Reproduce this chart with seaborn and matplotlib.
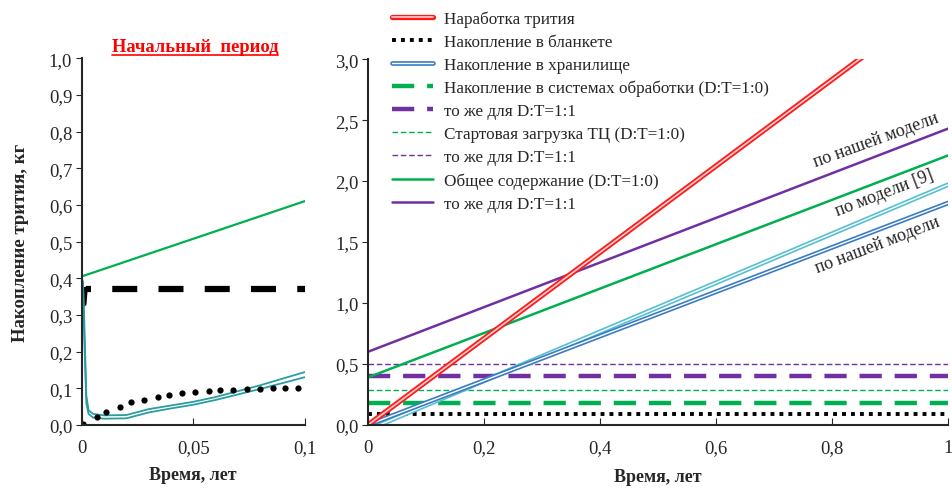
import numpy as np
import pandas as pd
import matplotlib
from matplotlib import pyplot as plt
from matplotlib import patheffects as pe
from matplotlib.lines import Line2D
import seaborn as sns
matplotlib.use("Agg")

# ---- left panel data (initial period, years 0..0.1)
t_store = [0, 0.0005, 0.001, 0.002, 0.003, 0.005, 0.01, 0.02, 0.03, 0.04, 0.05, 0.06, 0.07, 0.08, 0.09, 0.1]
store_hi = [0.40, 0.39, 0.30, 0.08, 0.04, 0.03, 0.026, 0.027, 0.043, 0.053, 0.063, 0.076, 0.092, 0.108, 0.126, 0.144]
store_lo = [0.40, 0.38, 0.25, 0.06, 0.03, 0.02, 0.017, 0.018, 0.034, 0.045, 0.055, 0.068, 0.083, 0.098, 0.114, 0.13]

t_blanket = [0.0007, 0.0067, 0.011, 0.017, 0.022, 0.028, 0.034, 0.039, 0.045, 0.051, 0.057,
             0.062, 0.068, 0.074, 0.080, 0.086, 0.091, 0.097]
blanket = [0.003, 0.022, 0.035, 0.049, 0.062, 0.068, 0.076, 0.082, 0.087, 0.090, 0.093,
           0.095, 0.096, 0.098, 0.099, 0.100, 0.100, 0.101]

t_rise_left = [0.001, 0.0015, 0.002]
rise_left = [0.33, 0.37, 0.37]
t_proc_left = [0.002, 0.1]
proc_left = [0.37, 0.37]

t_total_left = [0, 0.1]
total_left = [0.405, 0.61]

# ---- right panel data (years 0..1)
t_full = [0, 1]
prod = [0, 3.54]
store_our = [0, 1.82]
t_store9 = [0.02, 1]
store_9 = [0, 1.97]
blanket_r = [0.09, 0.09]
proc_10 = [0.18, 0.18]
proc_11 = [0.40, 0.40]
start_10 = [0.29, 0.29]
start_11 = [0.50, 0.50]
total_10 = [0.39, 2.21]
total_11 = [0.60, 2.43]

labels = ['Наработка трития', 'Накопление в бланкете', 'Накопление в хранилище',
          'Накопление в системах обработки (D:T=1:0)', 'то же для D:T=1:1',
          'Стартовая загрузка ТЦ (D:T=1:0)', 'то же для D:T=1:1',
          'Общее содержание (D:T=1:0)', 'то же для D:T=1:1']

RED = '#ff1a1a'
GREEN = '#00b050'
PURPLE = '#7030a0'
TEAL = '#2a9d9f'
BLUE = '#3a7cc4'
CYAN = '#56bfd0'

sns.set_style('ticks')
plt.rcParams['font.family'] = ['Liberation Serif', 'DejaVu Serif']
plt.rcParams['font.size'] = 12


def double(color, w=3.6):
    return [pe.Stroke(linewidth=w, foreground=color), pe.Normal()]


fig = plt.figure(figsize=(9.52, 4.89), dpi=100)
ax1 = fig.add_axes([0.086, 0.129, 0.234, 0.75])
ax2 = fig.add_axes([0.3866, 0.129, 0.6092, 0.748])

# left panel
sns.lineplot(x=t_total_left, y=total_left, ax=ax1, color=GREEN, lw=1.6)
sns.lineplot(x=t_rise_left, y=rise_left, ax=ax1, color='black', lw=3.5)
sns.lineplot(x=t_proc_left, y=proc_left, ax=ax1, color='black', lw=4.5,
             linestyle=(3.2, (4, 3.4)))
sns.lineplot(x=t_store, y=store_hi, ax=ax1, color=TEAL, lw=1.3)
sns.lineplot(x=t_store, y=store_lo, ax=ax1, color=TEAL, lw=1.3)
sns.lineplot(x=t_blanket, y=blanket, ax=ax1, color='black', linestyle='',
             marker='o', markersize=4.5, markeredgewidth=0)

ax1.set_xlim(0, 0.1)
ax1.set_ylim(0, 1.0)
ax1.set_xticks([0, 0.05, 0.1])
ax1.set_xticklabels(['0', '0,05', '0,1'])
ax1.set_yticks(np.arange(0, 1.01, 0.1))
ax1.set_yticklabels([f'{v:.1f}'.replace('.', ',') for v in np.arange(0, 1.01, 0.1)])
ax1.set_xlabel('Время, лет', fontweight='bold', fontsize=13, labelpad=7)
ax1.set_ylabel('Накопление трития, кг', fontweight='bold', fontsize=13.5, labelpad=14)

# right panel
sns.lineplot(x=t_full, y=blanket_r, ax=ax2, color='black', lw=2.8,
             linestyle=(0, (1, 1.3)), label=labels[1])
sns.lineplot(x=t_full, y=proc_10, ax=ax2, color=GREEN, lw=3.2,
             linestyle=(0, (5, 2.9)), label=labels[3])
sns.lineplot(x=t_full, y=proc_11, ax=ax2, color=PURPLE, lw=3.2,
             linestyle=(0, (5, 2.9)), label=labels[4])
sns.lineplot(x=t_full, y=start_10, ax=ax2, color=GREEN, lw=1.0,
             linestyle=(0, (4, 2)), label=labels[5])
sns.lineplot(x=t_full, y=start_11, ax=ax2, color=PURPLE, lw=1.0,
             linestyle=(0, (4, 2)), label=labels[6])
sns.lineplot(x=t_store9, y=store_9, ax=ax2, color='white', lw=1.0,
             path_effects=double(CYAN, 3.4))
sns.lineplot(x=t_full, y=store_our, ax=ax2, color='white', lw=1.0,
             path_effects=double(BLUE, 3.4), label=labels[2])
sns.lineplot(x=t_full, y=total_10, ax=ax2, color=GREEN, lw=1.8, label=labels[7])
sns.lineplot(x=t_full, y=total_11, ax=ax2, color=PURPLE, lw=1.8, label=labels[8])
sns.lineplot(x=t_full, y=prod, ax=ax2, color='#ffd0d0', lw=1.2,
             path_effects=double(RED, 3.8), label=labels[0])

ax2.set_xlim(0, 1)
ax2.set_ylim(0, 3.0)
ax2.set_xticks([0, 0.2, 0.4, 0.6, 0.8, 1])
ax2.set_xticklabels(['0', '0,2', '0,4', '0,6', '0,8', '1'])
ax2.set_yticks(np.arange(0, 3.01, 0.5))
ax2.set_yticklabels([f'{v:.1f}'.replace('.', ',') for v in np.arange(0, 3.01, 0.5)])
ax2.set_xlabel('Время, лет', fontweight='bold', fontsize=13, labelpad=9)

for ax in (ax1, ax2):
    sns.despine(ax=ax)
    ax.tick_params(axis='x', direction='in', length=5, labelsize=13.5, pad=10)
    ax.tick_params(axis='y', direction='out', length=4, labelsize=13.5, pad=3)
    for s in ax.spines.values():
        s.set_linewidth(1.5)
    if ax.get_legend() is not None:
        ax.get_legend().remove()

# annotations
ax2.text(0.876, 2.34, 'по нашей модели', rotation=20, ha='center', va='center', fontsize=13)
ax2.text(0.891, 1.91, 'по модели [9]', rotation=21, ha='center', va='center', fontsize=13)
ax2.text(0.878, 1.48, 'по нашей модели', rotation=21, ha='center', va='center', fontsize=13)

# legend
handles, labs = ax2.get_legend_handles_labels()
seen = []
hs = []
for l in labels:
    idx = [i for i, x in enumerate(labs) if x == l and i not in seen][0]
    seen.append(idx)
    hs.append(handles[idx])
fig.legend(hs, labels, loc='upper left', bbox_to_anchor=(392 / 952, 1 - 11 / 489),
           frameon=False, borderpad=0, borderaxespad=0, handlelength=2.4,
           handletextpad=0.65, labelspacing=0.41, fontsize=12.3)

# title with underline
title = fig.text(195 / 952, 1 - 48 / 489, 'Начальный  период', color='red',
                 fontweight='bold', fontsize=13.3, ha='center', va='center')
fig.canvas.draw()
bb = title.get_window_extent().transformed(fig.transFigure.inverted())
fig.add_artist(Line2D([bb.x0, bb.x1], [bb.y0 + 0.002, bb.y0 + 0.002], color='red', lw=1.2))

fig.savefig('out.png', dpi=100)
